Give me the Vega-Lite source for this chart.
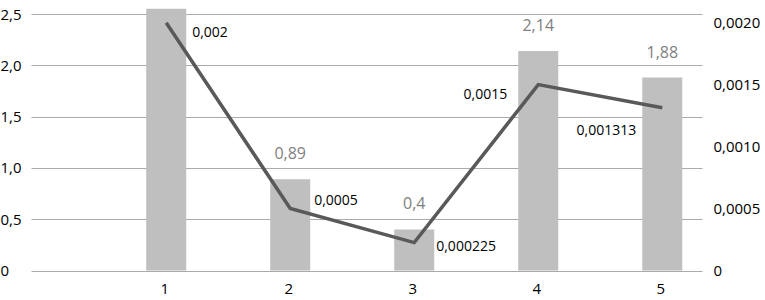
{
  "$schema": "https://vega.github.io/schema/vega-lite/v6.json",
  "width": 671,
  "height": 256.5,
  "autosize": "none",
  "padding": {"left": 31, "top": 14, "right": 63, "bottom": 29.5},
  "background": "white",
  "config": {
    "view": {"stroke": null},
    "font": "Open Sans",
    "locale": {"number": {"decimal": ",", "thousands": " ", "grouping": [3], "currency": ["", " €"]}},
    "axis": {"labelFont": "Open Sans", "labelFontSize": 15, "labelColor": "#000000", "title": null}
  },
  "data": {
    "values": [
      {"x": 1, "bar": 2.55, "line": 0.002},
      {"x": 2, "bar": 0.89, "line": 0.0005},
      {"x": 3, "bar": 0.4, "line": 0.000225},
      {"x": 4, "bar": 2.14, "line": 0.0015},
      {"x": 5, "bar": 1.88, "line": 0.001313}
    ]
  },
  "encoding": {
    "x": {
      "field": "x",
      "type": "quantitative",
      "scale": {"domain": [-0.05, 5.28], "nice": false, "zero": false},
      "axis": {"values": [1, 2, 3, 4, 5], "format": "d", "grid": false, "domain": false, "ticks": false, "labelPadding": 18, "labelBaseline": "middle", "labelFontSize": 15, "labelOffset": -2, "title": null}
    }
  },
  "layer": [
    {
      "layer": [
        {
          "mark": {"type": "bar", "color": "#BFBFBF", "size": 40},
          "encoding": {
            "y": {
              "field": "bar",
              "type": "quantitative",
              "scale": {"domain": [0, 2.5], "nice": false},
              "axis": {
                "orient": "left",
                "values": [0, 0.5, 1, 1.5, 2, 2.5],
                "format": ".1f",
                "labelExpr": "datum.value == 0 ? '0' : datum.label",
                "grid": true,
                "gridColor": "#ABABAB",
                "gridWidth": 1,
                "domain": false,
                "ticks": false,
                "labelAlign": "left",
                "labelBaseline": "middle",
                "labelPadding": 31,
                "title": null
              }
            }
          }
        },
        {
          "transform": [{"filter": "datum.x > 1"}],
          "mark": {"type": "text", "color": "#7F7F7F", "fontSize": 16, "font": "Open Sans", "dy": -25, "baseline": "middle", "align": "center"},
          "encoding": {
            "y": {"field": "bar", "type": "quantitative"},
            "text": {"field": "bar", "type": "quantitative", "format": ".2~f"}
          }
        }
      ]
    },
    {
      "layer": [
        {
          "mark": {"type": "line", "color": "#595959", "strokeWidth": 3.5},
          "encoding": {
            "y": {
              "field": "line",
              "type": "quantitative",
              "scale": {"domain": [0, 0.00207], "nice": false},
              "axis": {
                "orient": "right",
                "values": [0, 0.0005, 0.001, 0.0015, 0.002],
                "format": ".4f",
                "labelExpr": "datum.value == 0 ? '0' : datum.label",
                "grid": false,
                "domain": false,
                "ticks": false,
                "labelAlign": "left",
                "labelBaseline": "middle",
                "labelPadding": 11,
                "title": null
              }
            }
          }
        },
        {
          "transform": [{"filter": "datum.x == 1"}],
          "mark": {"type": "text", "color": "#000000", "fontSize": 14, "font": "Open Sans", "align": "left", "baseline": "middle", "dx": 26, "dy": 10},
          "encoding": {"y": {"field": "line", "type": "quantitative"}, "text": {"field": "line", "type": "quantitative", "format": ".6~f"}}
        },
        {
          "transform": [{"filter": "datum.x == 2"}],
          "mark": {"type": "text", "color": "#000000", "fontSize": 14, "font": "Open Sans", "align": "left", "baseline": "middle", "dx": 24, "dy": -8},
          "encoding": {"y": {"field": "line", "type": "quantitative"}, "text": {"field": "line", "type": "quantitative", "format": ".6~f"}}
        },
        {
          "transform": [{"filter": "datum.x == 3"}],
          "mark": {"type": "text", "color": "#000000", "fontSize": 14, "font": "Open Sans", "align": "left", "baseline": "middle", "dx": 22, "dy": 4},
          "encoding": {"y": {"field": "line", "type": "quantitative"}, "text": {"field": "line", "type": "quantitative", "format": ".6~f"}}
        },
        {
          "transform": [{"filter": "datum.x == 4"}],
          "mark": {"type": "text", "color": "#000000", "fontSize": 14, "font": "Open Sans", "align": "right", "baseline": "middle", "dx": -31, "dy": 10},
          "encoding": {"y": {"field": "line", "type": "quantitative"}, "text": {"field": "line", "type": "quantitative", "format": ".6~f"}}
        },
        {
          "transform": [{"filter": "datum.x == 5"}],
          "mark": {"type": "text", "color": "#000000", "fontSize": 14, "font": "Open Sans", "align": "right", "baseline": "middle", "dx": -26, "dy": 23},
          "encoding": {"y": {"field": "line", "type": "quantitative"}, "text": {"field": "line", "type": "quantitative", "format": ".6~f"}}
        }
      ]
    }
  ],
  "resolve": {"scale": {"y": "independent"}}
}
